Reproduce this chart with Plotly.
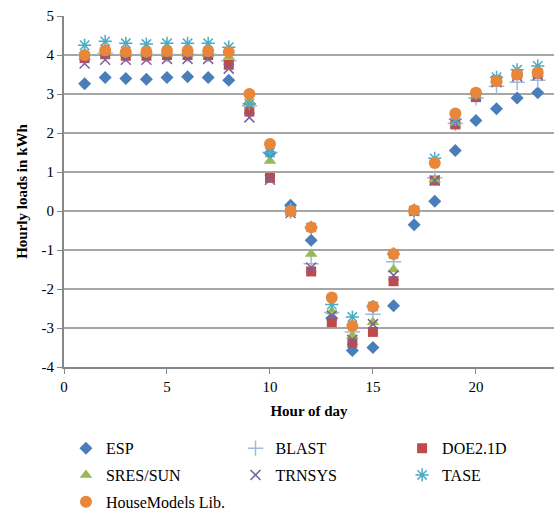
import plotly.graph_objects as go

hours = list(range(1, 25))

esp = [3.26, 3.42, 3.40, 3.38, 3.42, 3.44, 3.42, 3.35, 2.75, 1.48, 0.15, -0.75,
       -2.75, -3.58, -3.50, -2.43, -0.35, 0.25, 1.55, 2.32, 2.62, 2.90, 3.03, 3.05]
blast = [4.00, 4.05, 4.02, 4.02, 4.02, 4.02, 4.02, 3.85, 2.70, 1.50, 0.00, -1.35,
         -2.60, -3.10, -2.65, -1.30, 0.00, 0.85, 2.25, 2.90, 3.20, 3.30, 3.35, 3.40]
doe = [3.92, 4.02, 3.98, 3.98, 4.00, 4.00, 4.00, 3.75, 2.55, 0.85, 0.00, -1.55,
       -2.85, -3.38, -3.10, -1.80, 0.00, 0.78, 2.22, 2.92, 3.35, 3.50, 3.52, 3.55]
sres = [3.95, 4.05, 4.02, 4.02, 4.02, 4.02, 4.02, 3.95, 2.80, 1.28, 0.00, -1.10,
        -2.58, -3.20, -2.85, -1.50, 0.00, 0.80, 2.25, 2.95, 3.35, 3.50, 3.52, 3.55]
trnsys = [3.78, 3.88, 3.88, 3.88, 3.90, 3.90, 3.90, 3.65, 2.40, 0.80, -0.05, -1.45,
          -2.68, -3.30, -2.90, -1.65, 0.00, 0.78, 2.25, 2.95, 3.30, 3.45, 3.48, 3.50]
tase = [4.25, 4.35, 4.30, 4.28, 4.30, 4.30, 4.30, 4.20, 2.75, 1.50, 0.00, -0.42,
        -2.40, -2.72, -2.45, -1.10, 0.00, 1.35, 2.35, 3.00, 3.43, 3.62, 3.72, 3.75]
house = [4.00, 4.12, 4.08, 4.08, 4.10, 4.10, 4.10, 4.08, 3.00, 1.72, 0.00, -0.42,
         -2.22, -2.95, -2.45, -1.10, 0.02, 1.23, 2.50, 3.03, 3.33, 3.50, 3.55, 3.60]

x_ticks = [0, 5, 10, 15, 20]
y_ticks = [-4, -3, -2, -1, 0, 1, 2, 3, 4, 5]
y_tick_text = ["-4", "-3", "-2", "-1", "0", "1", "2", "3", "4", "5"]

# name, values, symbol, colour, size, outline width, legend column
series = [
    ("ESP", esp, "diamond", "#4a7ebb", 10, None, "legend"),
    ("BLAST", blast, "cross-thin", "#a3b8dc", 11, 1.5, "legend2"),
    ("DOE2.1D", doe, "square", "#be4b48", 10, None, "legend3"),
    ("SRES/SUN", sres, "triangle-up", "#98b954", 11, None, "legend"),
    ("TRNSYS", trnsys, "x-thin", "#7d60a0", 10, 1.5, "legend2"),
    ("TASE", tase, "asterisk", "#4bacc6", 11, 1.5, "legend3"),
    ("HouseModels Lib.", house, "circle", "#e8873a", 12, None, "legend"),
]

fig = go.Figure()
for name, vals, sym, col, size, lw, leg in series:
    marker = dict(symbol=sym, color=col, size=size)
    if lw is not None:
        marker["line"] = dict(color=col, width=lw)
    else:
        marker["line"] = dict(width=0)
    fig.add_trace(go.Scatter(x=hours, y=vals, mode="markers", name=name,
                             marker=marker, cliponaxis=False,
                             legend=leg, legendgroup=name))

font = "Liberation Serif"
legend_common = dict(orientation="v", y=-0.183, yanchor="top", xanchor="left",
                     font=dict(family=font, size=16, color="black"),
                     itemwidth=30, tracegroupgap=3, bgcolor="rgba(0,0,0,0)")

fig.update_layout(
    width=554, height=513,
    margin=dict(l=64, r=0, t=16, b=146, autoexpand=False),
    plot_bgcolor="white", paper_bgcolor="white",
    font=dict(family=font, size=15, color="black"),
    showlegend=True,
    legend=dict(x=0.004, **legend_common),
    legend2=dict(x=0.35, **legend_common),
    legend3=dict(x=0.69, **legend_common),
    xaxis=dict(range=[0, 23.79], tickvals=x_ticks, showgrid=False,
               showline=True, linecolor="#878787", linewidth=2,
               ticks="outside", ticklen=5, tickcolor="#878787",
               zeroline=False, tickfont=dict(family=font, size=15),
               title=dict(text="<b>Hour of day</b>",
                          font=dict(family=font, size=15), standoff=11)),
    yaxis=dict(range=[-4, 5], tickvals=y_ticks, ticktext=y_tick_text,
               showgrid=True, gridcolor="#a6a6a6", gridwidth=1.5,
               showline=True, linecolor="#878787", linewidth=2,
               ticks="outside", ticklen=5, tickcolor="#878787",
               zeroline=False, tickfont=dict(family=font, size=15),
               title=dict(text="<b>Hourly loads in kWh</b>",
                          font=dict(family=font, size=15), standoff=10)),
)

fig.write_html("out.html")
